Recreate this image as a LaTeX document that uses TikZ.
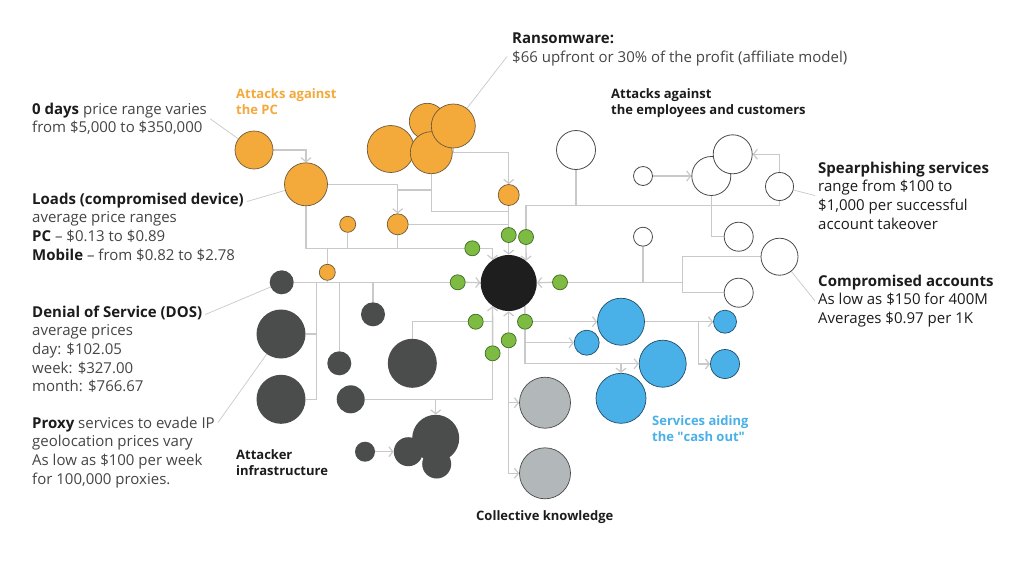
\documentclass[tikz,border=0pt]{standalone}
\usepackage{fontspec}
\setmainfont{Open Sans}
\usetikzlibrary{arrows.meta,backgrounds}

\definecolor{pcorange}{HTML}{F4A93B}
\definecolor{orngedge}{HTML}{6E5A3A}
\definecolor{infradark}{HTML}{4B4C4C}
\definecolor{hubblack}{HTML}{1E1E1E}
\definecolor{nodegreen}{HTML}{7DBB42}
\definecolor{greenedge}{HTML}{3E6B22}
\definecolor{cashblue}{HTML}{4AB0E8}
\definecolor{blueedge}{HTML}{1F4E6B}
\definecolor{knowgray}{HTML}{B2B8B9}
\definecolor{ringgray}{HTML}{4A4A4A}
\definecolor{linkgray}{HTML}{C9C9C9}
\definecolor{txtgray}{HTML}{454545}
\definecolor{txtdark}{HTML}{1C1C1C}

\newcommand{\bhead}[1]{\textcolor{txtdark}{\textbf{#1}}}

\begin{document}
\begin{tikzpicture}[
		x=1pt, y=-1pt,
		orng/.style={circle,fill=pcorange,draw=orngedge,line width=0.7pt,inner sep=0pt,minimum size=#1},
		infra/.style={circle,fill=infradark,inner sep=0pt,minimum size=#1},
		cash/.style={circle,fill=cashblue,draw=blueedge,line width=0.7pt,inner sep=0pt,minimum size=#1},
		know/.style={circle,fill=knowgray,draw=ringgray,line width=0.7pt,inner sep=0pt,minimum size=#1},
		ring/.style={circle,fill=white,draw=ringgray,line width=0.8pt,inner sep=0pt,minimum size=#1},
		gdot/.style={circle,fill=nodegreen,draw=greenedge,line width=0.7pt,inner sep=0pt,minimum size=15pt},
		link/.style={draw=linkgray,line width=1.4pt},
		leader/.style={draw=linkgray,line width=0.7pt},
		txt/.style={anchor=north west,align=left,inner sep=0pt,text=txtgray,font=\fontsize{15}{18.7}\selectfont},
		cat/.style={anchor=north west,align=left,inner sep=0pt,text=txtdark,font=\bfseries\fontsize{13}{16}\selectfont},
		>={Straight Barb[length=4pt,width=10pt,line width=1.2pt]}]
	\begin{pgfonlayer}{background}
	\fill[white] (0,0) rectangle (1024,560);
	\end{pgfonlayer}
	\useasboundingbox (0,0) rectangle (1024,560);
	%% hub
	\node (hub) at (508.7,283) [circle,fill=hubblack,inner sep=0pt,minimum size=56pt] {};
	\node (gA) at (508.7,235) [gdot] {};
	\node (gB) at (472.3,248.3) [gdot] {};
	\node (gC) at (526,237) [gdot] {};
	\node (gD) at (560,282.3) [gdot] {};
	\node (gE) at (457.7,282.3) [gdot] {};
	\node (gF) at (475.7,321.7) [gdot] {};
	\node (gH) at (492.6,353.3) [gdot] {};
	\node (gI) at (508.7,340.3) [gdot] {};
	\node (gJ) at (525,321.7) [gdot] {};
	%% attacks against the PC
	\node (o1) at (254,150) [orng=38pt] {};
	\node (o2) at (306,184.3) [orng=43pt] {};
	\node (o3) at (390.7,149) [orng=47pt] {};
	\node (o4) at (427.3,121.3) [orng=36pt] {};
	\node (o5) at (431.3,152.7) [orng=42pt] {};
	\node (o6) at (453.3,126) [orng=44pt] {};
	\node (o7) at (508.7,195) [orng=21pt] {};
	\node (o8) at (347.7,224.3) [orng=16pt] {};
	\node (o9) at (397.7,224.3) [orng=21pt] {};
	\node (o10) at (327.3,272.3) [orng=16pt] {};
	%% attacker infrastructure
	\node (d1) at (281.7,282.3) [infra=24pt] {};
	\node (d2) at (281,334) [infra=49pt] {};
	\node (d3) at (281,399.3) [infra=49pt] {};
	\node (d4) at (373,314.3) [infra=24pt] {};
	\node (d5) at (339.3,363.3) [infra=24pt] {};
	\node (d6) at (412.3,363.3) [infra=49pt] {};
	\node (d7) at (350.7,399.3) [infra=28pt] {};
	\node (e1) at (435.7,438.3) [infra=47pt] {};
	\node (e2) at (408.3,451.7) [infra=29pt] {};
	\node (e3) at (436.7,464) [infra=29pt] {};
	\node (e4) at (365,451.7) [infra=20pt] {};
	%% employees and customers
	\node (w1) at (576,150) [ring=39pt] {};
	\node (w2) at (643,176) [ring=19pt] {};
	\node (w3) at (711.3,176) [ring=39pt] {};
	\node (w4) at (732.7,154.3) [ring=39pt] {};
	\node (w5) at (779.5,186.5) [ring=28pt] {};
	\node (w6) at (738.7,236.7) [ring=29pt] {};
	\node (w7) at (643,236.7) [ring=19pt] {};
	\node (w8) at (779.5,256.7) [ring=37pt] {};
	\node (w9) at (738.7,292.7) [ring=29pt] {};
	%% cash out
	\node (b1) at (621,321.7) [cash=47pt] {};
	\node (b2) at (586.7,342.7) [cash=25pt] {};
	\node (b3) at (662.7,363.7) [cash=47pt] {};
	\node (b4) at (621,398.3) [cash=50pt] {};
	\node (b5) at (725,321.7) [cash=23pt] {};
	\node (b6) at (725,364) [cash=29pt] {};
	%% collective knowledge
	\node (k1) at (545,402.7) [know=51pt] {};
	\node (k2) at (545,473.3) [know=51pt] {};
	%% junctions
	\coordinate (jc) at (397.7,190);
	\coordinate (jo) at (508.7,211.7);
	\coordinate (jw) at (526,205.5);
	\coordinate (jr) at (682.7,282.3);
	\coordinate (jd) at (316.7,282.3);
	\coordinate (jb) at (698.3,321.7);
	%% texts
	\node (tran) at (512,32.5) [txt] {\bhead{Ransomware:}\\\$66 upfront or 30\% of the profit (affiliate model)};
	\node (t0day) at (32,102.5) [txt] {\bhead{0 days} price range varies\\from \$5,000 to \$350,000};
	\node (tload) at (32,192.5) [txt] {\bhead{Loads (compromised device)}\\average price ranges\\\bhead{PC} -- \$0.13 to \$0.89\\\bhead{Mobile} -- from \$0.82 to \$2.78};
	\node (tdos) at (32,305.5) [txt] {\bhead{Denial of Service (DOS)}\\average prices\\day: \$102.05\\week: \$327.00\\month: \$766.67};
	\node (tproxy) at (32,416.5) [txt] {\bhead{Proxy} services to evade IP\\geolocation prices vary\\As low as \$100 per week\\for 100,000 proxies.};
	\node (tspear) at (818,161.5) [txt,text=txtdark] {\bhead{Spearphishing services}\\range from \$100 to\\\$1,000 per successful\\account takeover};
	\node (tcomp) at (818,274.5) [txt,text=txtdark] {\bhead{Compromised accounts}\\As low as \$150 for 400M\\Averages \$0.97 per 1K};
	\node (lpc) at (236,88.5) [cat,text=pcorange] {Attacks against\\the PC};
	\node (lemp) at (611,88.5) [cat] {Attacks against\\the employees and customers};
	\node (linfra) at (236,449.5) [cat] {Attacker\\infrastructure};
	\node (lcash) at (652,415.5) [cat,text=cashblue] {Services aiding\\the \textquotedbl cash out\textquotedbl};
	\node (lknow) at (476,510.5) [cat] {Collective knowledge};
	%% connectors
	\begin{pgfonlayer}{background}
	\draw[link,->] (o1) -| (o2);
	\draw[link,->] (o2) -| (o9);
	\draw[link] (o5) |- (jc);
	\draw[link] (o5) |- (jo);
	\draw[link,->] (o6.south) -- ++(0,4) -| (o7);
	\draw[link] (o7) -- (gA);
	\draw[link,->] (gA) -- (hub);
	\draw[link] (o9) -- (o9 -| o7);
	\draw[link] (o2) |- (gB);
	\draw[link] (o8) -- (o8 |- gB);
	\draw[link] (o9) -- (o9 |- gB);
	\draw[link] (o10) -- (o10 |- gB);
	\draw[link,->] (gB) -| (hub.125);
	\draw[link,->] (gC) -- (hub.52);
	\draw[link] (gC) -- (jw) -| (w5);
	\draw[link] (w1) -- (w1 |- jw);
	\draw[link] (w3) |- (w6);
	\draw[link,->] (w2) -- (w3);
	\draw[link,->] (w5) |- (w4);
	\draw[link,->] (gD) -- (hub);
	\draw[link] (gD) -- (jr);
	\draw[link] (w7) -- (w7 |- jr);
	\draw[link] (w8) -| (jr);
	\draw[link] (w9) -| (jr);
	\draw[link,->] (gE) -- (hub);
	\draw[link] (d1) -- (gE);
	\draw[link] (d2) -| (jd);
	\draw[link] (d3) -| (jd);
	\draw[link] (d4) -- (d4 |- d1);
	\draw[link] (d5) -- (d5 |- d1);
	\draw[link] (o10) -- (o10 |- d1);
	\draw[link] (d6) |- (gF);
	\draw[link] (gF) -- (gF -| gH);
	\draw[link,->] (gH) -- (hub.235);
	\draw[link] (d7) -| (gH);
	\draw[link,->] (d7 -| e1) -- (e1);
	\draw[link,->] (e4) -- (e2);
	\draw[link,->] (gI) -- (hub);
	\draw[link,->] (gI) |- (k2);
	\draw[link,->] (gI |- k1) -- (k1);
	\draw[link] (hub.-55) -- (gJ);
	\draw[link,->] (gJ) -- (b1);
	\draw[link,->] (gJ) |- (b2);
	\draw[link,->] (gJ) |- (b3);
	\draw[link,->] (b4 |- b3) -- (b4);
	\draw[link,->] (b1) -- (b5);
	\draw[link,->] (jb) |- (b6);
	%% leaders
	\draw[leader] ([xshift=3pt]t0day.east) -- (o1);
	\draw[leader] ([xshift=3pt,yshift=-9pt]tload.north east) -- (o2);
	\draw[leader] ([xshift=3pt,yshift=-9pt]tdos.north east) -- (d1);
	\draw[leader] ([xshift=3pt,yshift=-6pt]tproxy.north east) -- (d2);
	\draw[leader] ([xshift=-5pt,yshift=-24pt]tran.north west) -- (o6);
	\draw[leader] (w5) -- ([xshift=-3pt]tspear.west);
	\draw[leader] (w8) -- ([xshift=-3pt]tcomp.west);
	\end{pgfonlayer}
\end{tikzpicture}
\end{document}
